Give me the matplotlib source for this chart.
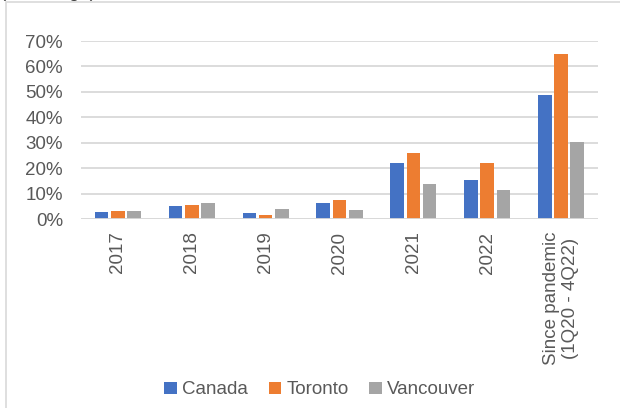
import numpy as np
import matplotlib.pyplot as plt
from matplotlib.patches import Rectangle
from matplotlib.ticker import PercentFormatter

plt.rcParams['font.family'] = ['Liberation Sans', 'DejaVu Sans']

# Data (percent change)
categories = ["2017", "2018", "2019", "2020", "2021", "2022",
              "Since pandemic\n(1Q20 - 4Q22)"]
canada = [2.6, 5.1, 2.2, 6.4, 22.0, 15.4, 48.9]
toronto = [3.1, 5.6, 1.5, 7.6, 25.8, 22.0, 64.8]
vancouver = [3.1, 6.2, 3.8, 3.5, 13.8, 11.3, 30.2]

series = [("Canada", canada, "#4472C4"),
          ("Toronto", toronto, "#ED7D31"),
          ("Vancouver", vancouver, "#A5A5A5")]

text_col = "#595959"

fig = plt.figure(figsize=(6.2, 4.08), dpi=100)
ax = fig.add_axes([0.1306, 0.4632, 0.8339, 0.4363])

x = np.arange(len(categories))
step = 0.22
for i, (name, vals, col) in enumerate(series):
    ax.bar(x + (i - 1) * step, vals, width=0.185, color=col, label=name,
           zorder=3)

ax.set_ylim(0, 70)
ax.set_xlim(-0.5, len(categories) - 0.5)
ax.set_yticks(np.arange(0, 71, 10))
ax.yaxis.set_major_formatter(PercentFormatter(decimals=0))
ax.grid(axis='y', color="#D9D9D9", linewidth=1.3, zorder=0)
for s in ax.spines.values():
    s.set_visible(False)
ax.axhline(0, color="#D9D9D9", linewidth=1.3, zorder=4)

ax.set_xticks(x)
ax.set_xticklabels(categories, rotation=90, va='top', ha='center',
                   multialignment='center')
ax.tick_params(axis='both', length=0, labelsize=13.5, colors=text_col)
ax.tick_params(axis='y', pad=13)
ax.tick_params(axis='x', pad=9)

fig.legend(loc='center', bbox_to_anchor=(320 / 620, 1 - 390 / 408),
           ncol=3, frameon=False, fontsize=13.5, handlelength=0.65,
           handleheight=0.65, handletextpad=0.3, columnspacing=1.1,
           labelcolor=text_col)

# chart frame and cut-off title
fig.patches.append(Rectangle((6 / 620, -0.01), 1.02, 1 - 2 / 408 + 0.01,
                             transform=fig.transFigure, fill=False,
                             edgecolor="#D9D9D9", linewidth=1.2))
fig.text(0.0, 1 + 3 / 408, "(% change)", fontsize=13.5, color="#404040",
         ha='left', va='baseline')

fig.savefig("out.png", dpi=100)
